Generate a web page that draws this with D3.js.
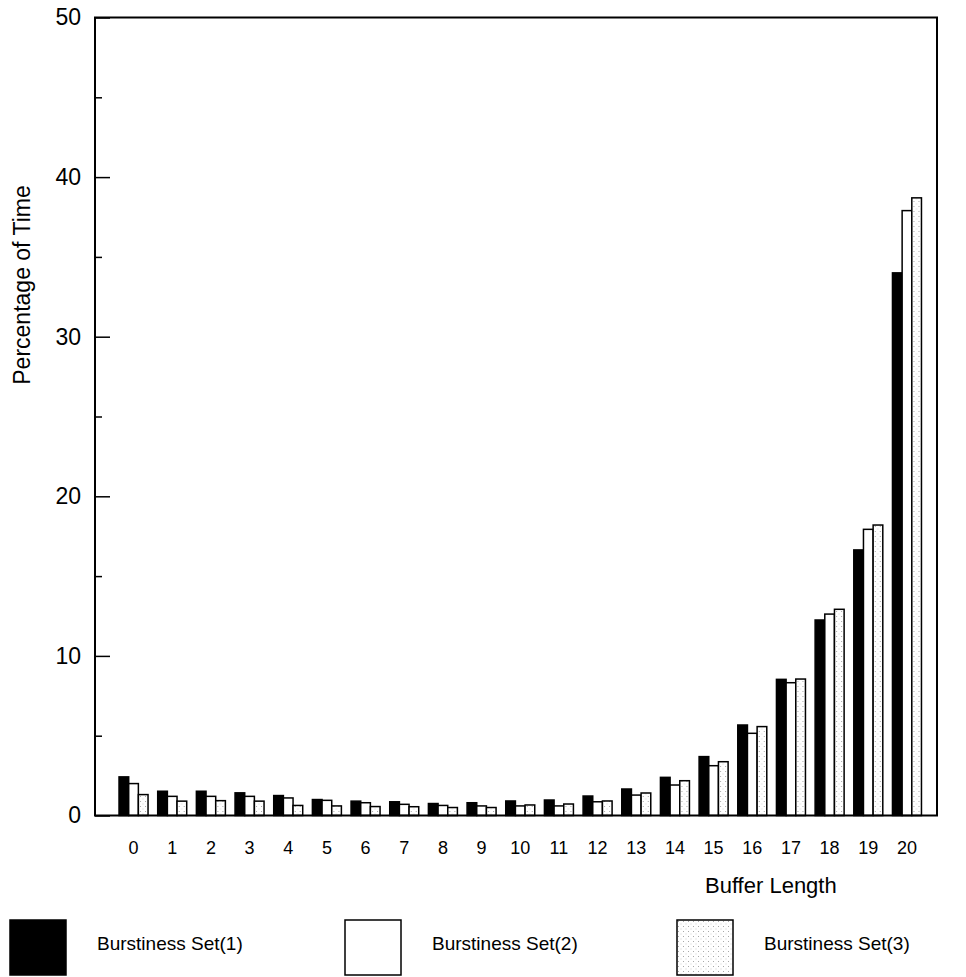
<!DOCTYPE html>
<html>
<head>
<meta charset="utf-8">
<script src="https://cdn.jsdelivr.net/npm/d3@7"></script>
<style>
  html, body { margin: 0; padding: 0; background: #fff; }
  svg { display: block; font-family: "Liberation Sans", Arial, Helvetica, sans-serif; }
</style>
</head>
<body>
<div id="chart"></div>
<script>
"use strict";
// buffer occupancy histogram — three burstiness sets, grouped bars
const bufferLengths = ["0","1","2","3","4","5","6","7","8","9","10","11","12","13","14","15","16","17","18","19","20"];
const seriesNames = ["Burstiness Set(1)", "Burstiness Set(2)", "Burstiness Set(3)"];
const set1 = [2.42,1.52,1.52,1.42,1.25,1.0,0.9,0.86,0.75,0.8,0.91,0.97,1.22,1.66,2.39,3.69,5.67,8.53,12.25,16.64,34.0];
const set2 = [2.0,1.2,1.2,1.2,1.1,0.95,0.8,0.7,0.63,0.6,0.6,0.6,0.86,1.28,1.91,3.12,5.15,8.32,12.62,17.93,37.9];
const set3 = [1.31,0.9,0.93,0.9,0.63,0.6,0.56,0.55,0.5,0.5,0.66,0.72,0.91,1.41,2.18,3.37,5.57,8.55,12.92,18.2,38.7];
const majorTicks = [0,10,20,30,40,50];
const minorTicks = [5,15,25,35,45];

const W = 966, H = 977;
const L = 95, R = 937, T = 17.5, B = 815.5;   // plot frame

const svg = d3.select("#chart").append("svg").attr("width", W).attr("height", H);
const defs = svg.append("defs");
// sparse grey dots for set 3
const pat = defs.append("pattern").attr("id","dots").attr("patternUnits","userSpaceOnUse")
  .attr("width",5).attr("height",5);
pat.append("rect").attr("width",5).attr("height",5).attr("fill","#fff");
pat.append("rect").attr("x",1).attr("y",1).attr("width",1).attr("height",1).attr("fill","#a8a8a8");
pat.append("rect").attr("x",3.5).attr("y",3.5).attr("width",1).attr("height",1).attr("fill","#cfcfcf");

const fills = ["#000", "#fff", "url(#dots)"];

const x = d3.scaleBand().domain(bufferLengths).range([114.2, 926.3]).paddingInner(0.25).paddingOuter(0.125);
const xs = d3.scaleBand().domain([0,1,2]).range([0, x.bandwidth()]);
const y = d3.scaleLinear().domain([0, 50]).range([B, T]);

// bars
const rows = bufferLengths.map((k, i) => ({ k, v: [set1[i], set2[i], set3[i]] }));
const grp = svg.append("g").selectAll("g").data(rows).join("g")
  .attr("transform", (d) => `translate(${x(d.k)},0)`);
grp.selectAll("rect").data((d) => d.v.map((v, s) => ({ v, s }))).join("rect")
  .attr("x", (d) => xs(d.s)).attr("width", xs.bandwidth())
  .attr("y", (d) => y(d.v)).attr("height", (d) => B - y(d.v))
  .attr("fill", (d) => fills[d.s]).attr("stroke", "#000").attr("stroke-width", 1.5);

// frame
svg.append("rect").attr("x", L).attr("y", T).attr("width", R - L).attr("height", B - T)
  .attr("fill", "none").attr("stroke", "#000").attr("stroke-width", 2);

// y ticks drawn inward
const yAx = svg.append("g").attr("transform", `translate(${L},0)`)
  .call(d3.axisLeft(y).tickValues(majorTicks).tickSize(-15).tickPadding(14).tickFormat(d3.format("d")));
yAx.select(".domain").remove();
yAx.selectAll("line").attr("stroke-width", 1.5);
yAx.selectAll("text").attr("font-size", 23).attr("font-family", "Liberation Sans, Arial, sans-serif").attr("fill", "#000");
const yMin = svg.append("g").attr("transform", `translate(${L},0)`)
  .call(d3.axisLeft(y).tickValues(minorTicks).tickSize(-7).tickFormat(""));
yMin.select(".domain").remove();
yMin.selectAll("line").attr("stroke-width", 1.5);

// x labels
const xAx = svg.append("g").attr("transform", `translate(0,${B})`)
  .call(d3.axisBottom(x).tickSize(0).tickPadding(26));
xAx.select(".domain").remove();
xAx.selectAll("text").attr("font-size", 18).attr("font-family", "Liberation Sans, Arial, sans-serif").attr("fill", "#000");

// axis titles
svg.append("text").attr("x", 705).attr("y", 893).attr("font-size", 22).text("Buffer Length");
svg.append("text").attr("transform", "translate(30,285) rotate(-90)").attr("text-anchor", "middle")
  .attr("font-size", 23).text("Percentage of Time");

// legend
const legX = [10, 345, 677];
const leg = svg.append("g").selectAll("g").data(seriesNames).join("g")
  .attr("transform", (d, i) => `translate(${legX[i]},920)`);
leg.append("rect").attr("width", 56).attr("height", 55)
  .attr("fill", (d, i) => fills[i]).attr("stroke", "#000").attr("stroke-width", 1.5);
leg.append("text").attr("x", 87).attr("y", 30).attr("font-size", 19).text((d) => d);
</script>
</body>
</html>
